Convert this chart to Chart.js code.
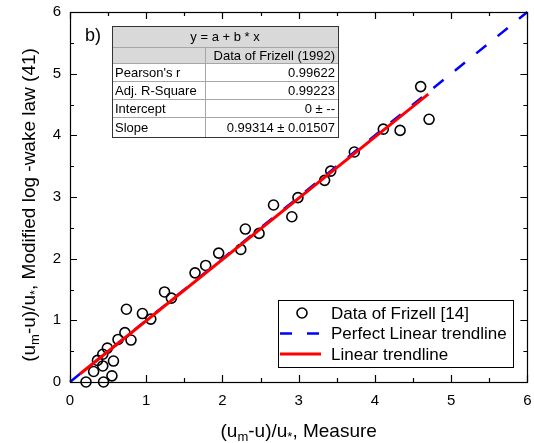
<!DOCTYPE html>
<html>
<head>
<meta charset="utf-8">
<script src="https://cdn.jsdelivr.net/npm/chart.js@4.4.1/dist/chart.umd.min.js"></script>
<style>
  html, body { margin: 0; padding: 0; background: #fff; }
  #wrap { width: 534px; height: 443px; position: relative; }
</style>
</head>
<body>
<div id="wrap"><canvas id="chart" width="534" height="443"></canvas></div>
<script>
// measured vs. modified log-wake law, Frizell data
const xMeasure = [0.21, 0.44, 0.31, 0.43, 0.55, 0.36, 0.43, 0.49, 0.57, 0.63, 0.72, 0.80, 0.74, 0.95, 1.06, 1.24, 1.33,
  1.64, 1.78, 1.95, 2.24, 2.30, 2.48, 2.67, 2.91, 2.99, 3.34, 3.42, 3.73, 4.11, 4.33, 4.60, 4.71];
const yModel = [0.00, 0.00, 0.17, 0.26, 0.10, 0.35, 0.45, 0.55, 0.34, 0.69, 0.80, 0.68, 1.18, 1.11, 1.02, 1.46, 1.36,
  1.77, 1.89, 2.09, 2.15, 2.48, 2.41, 2.87, 2.68, 2.99, 3.27, 3.42, 3.73, 4.10, 4.08, 4.79, 4.26];

const perfectX = [0, 6];
const fitX = [0.13, 4.70];
const fitSlope = 0.99314;

const axisTicks = [0, 1, 2, 3, 4, 5, 6];

const legendLabels = ["Data of Frizell [14]", "Perfect Linear trendline", "Linear trendline"];

const tableTitle = "y = a + b * x";
const tableColumn = "Data of Frizell (1992)";
const statNames = ["Pearson's r", "Adj. R-Square", "Intercept", "Slope"];
const statValues = ["0.99622", "0.99223", "0 \u00b1 --", "0.99314 \u00b1 0.01507"];

const FONT = "Arial, 'Liberation Sans', sans-serif";

const xTitle = [["(u"], ["m", 1], ["-u)/u"], ["*", 1], [", Measure"]];
const yTitle = [["(u"], ["m", 1], ["-u)/u"], ["*", 1], [", Modified log -wake law (41)"]];

function richWidth(ctx, parts, size) {
  let w = 0;
  parts.forEach(([t, sub]) => {
    ctx.font = (sub ? Math.round(size * 0.7) : size) + "px " + FONT;
    w += ctx.measureText(t).width;
  });
  return w;
}

function drawRich(ctx, parts, size, cx, cy) {
  const w = richWidth(ctx, parts, size);
  let x = cx - w / 2;
  ctx.textBaseline = "middle";
  ctx.textAlign = "left";
  parts.forEach(([t, sub]) => {
    ctx.font = (sub ? Math.round(size * 0.7) : size) + "px " + FONT;
    ctx.fillText(t, x, sub ? cy + size * 0.3 : cy);
    x += ctx.measureText(t).width;
  });
}

const extras = {
  id: "extras",
  afterDraw(chart) {
    const { ctx, chartArea: a, scales: { x, y } } = chart;
    ctx.save();
    ctx.fillStyle = "#000";
    ctx.strokeStyle = "#000";
    ctx.lineWidth = 1.2;

    // frame + inward ticks
    ctx.strokeRect(Math.round(a.left) + 0.5, Math.round(a.top) + 0.5,
      Math.round(a.right - a.left), Math.round(a.bottom - a.top));
    ctx.beginPath();
    for (let v = 0; v <= 6; v += 0.5) {
      const len = v % 1 === 0 ? 7 : 4;
      const px = Math.round(x.getPixelForValue(v)) + 0.5;
      const py = Math.round(y.getPixelForValue(v)) + 0.5;
      ctx.moveTo(px, a.bottom); ctx.lineTo(px, a.bottom - len);
      ctx.moveTo(px, a.top); ctx.lineTo(px, a.top + len);
      ctx.moveTo(a.left, py); ctx.lineTo(a.left + len, py);
      ctx.moveTo(a.right, py); ctx.lineTo(a.right - len, py);
    }
    ctx.stroke();

    // axis titles
    drawRich(ctx, xTitle, 19, (a.left + a.right) / 2, 432);
    ctx.save();
    ctx.translate(30, 205);
    ctx.rotate(-Math.PI / 2);
    drawRich(ctx, yTitle, 19, 0, 0);
    ctx.restore();

    // panel label
    ctx.font = "18px " + FONT;
    ctx.textAlign = "left";
    ctx.textBaseline = "middle";
    ctx.fillText("b)", 85, 36);

    // stats table
    const tl = 112, tr = 338, tc = 205;
    const rows = [26, 47, 63, 81, 99, 117, 137];
    ctx.lineWidth = 1;
    ctx.fillStyle = "#fff";
    ctx.fillRect(tl, rows[0], tr - tl, rows[6] - rows[0]);
    ctx.fillStyle = "#d9d9d9";
    ctx.fillRect(tl, rows[0], tr - tl, rows[2] - rows[0]);
    ctx.strokeStyle = "#a6a6a6";
    ctx.beginPath();
    for (let i = 1; i < rows.length - 1; i++) {
      ctx.moveTo(tl, rows[i] + 0.5); ctx.lineTo(tr, rows[i] + 0.5);
    }
    ctx.moveTo(tc + 0.5, rows[1]); ctx.lineTo(tc + 0.5, rows[6]);
    ctx.stroke();
    ctx.strokeStyle = "#333";
    ctx.strokeRect(tl + 0.5, rows[0] + 0.5, tr - tl, rows[6] - rows[0]);

    ctx.fillStyle = "#000";
    ctx.font = "13px " + FONT;
    ctx.textBaseline = "middle";
    ctx.textAlign = "center";
    ctx.fillText(tableTitle, (tl + tr) / 2, (rows[0] + rows[1]) / 2 + 1);
    ctx.textAlign = "right";
    ctx.fillText(tableColumn, tr - 3, (rows[1] + rows[2]) / 2 + 1);
    statNames.forEach((name, i) => {
      const cy = (rows[i + 2] + rows[i + 3]) / 2 + 1;
      ctx.textAlign = "left";
      ctx.fillText(name, tl + 3, cy);
      ctx.textAlign = "right";
      ctx.fillText(statValues[i], tr - 3, cy);
    });

    // legend
    const lx = 278, ly = 300, lw = 235, lh = 67;
    ctx.fillStyle = "#fff";
    ctx.fillRect(lx, ly, lw, lh);
    ctx.strokeStyle = "#000";
    ctx.strokeRect(lx + 0.5, ly + 0.5, lw, lh);
    const rowY = [313, 333.5, 354];
    ctx.lineWidth = 1.6;
    ctx.beginPath();
    ctx.arc(302, rowY[0], 5, 0, Math.PI * 2);
    ctx.stroke();
    ctx.lineWidth = 2.5;
    ctx.strokeStyle = "#0000ff";
    ctx.setLineDash([12, 15]);
    ctx.beginPath(); ctx.moveTo(280, rowY[1]); ctx.lineTo(321, rowY[1]); ctx.stroke();
    ctx.setLineDash([]);
    ctx.lineWidth = 3;
    ctx.strokeStyle = "#ff0000";
    ctx.beginPath(); ctx.moveTo(280, rowY[2]); ctx.lineTo(321, rowY[2]); ctx.stroke();
    ctx.fillStyle = "#000";
    ctx.font = "17px " + FONT;
    ctx.textAlign = "left";
    legendLabels.forEach((t, i) => ctx.fillText(t, 331, rowY[i] + 1));

    ctx.restore();
  }
};

const pts = xMeasure.map((v, i) => ({ x: v, y: yModel[i] }));
const perfect = perfectX.map(v => ({ x: v, y: v }));
const fit = fitX.map(v => ({ x: v, y: fitSlope * v }));

const axisOpts = (extra) => Object.assign({
  type: "linear",
  min: 0,
  max: 6,
  grid: { display: false, drawTicks: false },
  border: { display: false }
}, extra);

new Chart(document.getElementById("chart"), {
  type: "scatter",
  data: {
    datasets: [
      {
        label: legendLabels[2],
        data: fit,
        showLine: true,
        borderColor: "#ff0000",
        borderWidth: 3,
        pointRadius: 0,
        order: 0
      },
      {
        label: legendLabels[1],
        data: perfect,
        showLine: true,
        borderColor: "#0000ff",
        borderWidth: 2.5,
        borderDash: [13, 14.5],
        pointRadius: 0,
        order: 1,
        clip: false
      },
      {
        label: legendLabels[0],
        data: pts,
        pointStyle: "circle",
        pointRadius: 5,
        borderWidth: 1.6,
        borderColor: "#000",
        backgroundColor: "rgba(0,0,0,0)",
        order: 2,
        clip: false
      }
    ]
  },
  options: {
    responsive: false,
    animation: false,
    layout: { padding: { top: 12, right: 6, left: 0, bottom: 0 } },
    plugins: { legend: { display: false }, tooltip: { enabled: false } },
    scales: {
      x: axisOpts({
        position: "bottom",
        ticks: {
          stepSize: 1, color: "#000", padding: 10,
          font: { family: FONT, size: 15 },
          callback: (v) => axisTicks.includes(v) ? String(v) : ""
        },
        afterFit: (s) => { s.height = 61; s.paddingLeft = 0; s.paddingRight = 0; }
      }),
      y: axisOpts({
        position: "left",
        ticks: {
          stepSize: 1, color: "#000", padding: 9,
          font: { family: FONT, size: 15 },
          callback: (v) => axisTicks.includes(v) ? String(v) : ""
        },
        afterFit: (s) => { s.width = 70; s.paddingTop = 0; s.paddingBottom = 0; }
      })
    }
  },
  plugins: [extras]
});
</script>
</body>
</html>
